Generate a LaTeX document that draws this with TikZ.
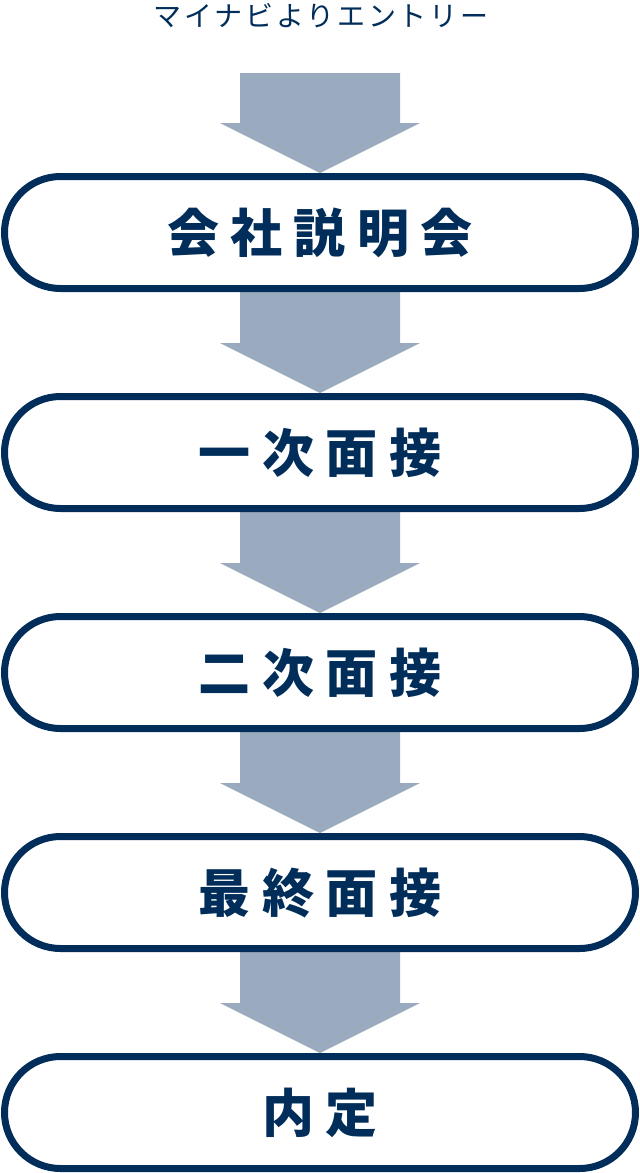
\documentclass[tikz,border=0pt]{standalone}
\usepackage{fontspec}
\newfontfamily\jpfont{Noto Sans CJK JP}
\usetikzlibrary{calc}
\pgfdeclarelayer{background}
\pgfsetlayers{background,main}
\definecolor{navy}{HTML}{002D5A}
\definecolor{flowgray}{HTML}{9AABBF}
\begin{document}
\begin{tikzpicture}[
  x=1pt, y=-1pt,
  stage/.style={rectangle, draw=navy, line width=7pt, fill=white, rounded corners=56pt,
    minimum width=631pt, minimum height=112pt, inner sep=0pt, text=navy,
    font={\jpfont\bfseries\addfontfeature{LetterSpace=22}\fontsize{52}{60}\selectfont}},
  entry/.style={text=navy, inner sep=0pt,
    font={\jpfont\addfontfeature{LetterSpace=10}\fontsize{28}{32}\selectfont}},
  flow/.style={fill=flowgray}
]
  \useasboundingbox (0,0) rectangle (640,1173);
  \node[entry] (E) at (321,16) {マイナビよりエントリー};
  \coordinate (T) at (320,73);
  \node[stage] (S1) at (320,232.5) {会社説明会};
  \node[stage] (S2) at (320,452.5) {一次面接};
  \node[stage] (S3) at (320,672.5) {二次面接};
  \node[stage] (S4) at (320,892.5) {最終面接};
  \node[stage] (S5) at (320,1112.5) {内定};
  % block arrows between the stages
  \begin{pgfonlayer}{background}
  \foreach \a/\b in {T/S1, S1/S2, S2/S3, S3/S4, S4/S5} {
    \fill[flow] ($(\a)+(-80,0)$ |- \a.south) -- ($(\a)+(80,0)$ |- \a.south)
      -- ($(\b.north)+(80,-50)$) -- ($(\b.north)+(100,-50)$) -- (\b.north)
      -- ($(\b.north)+(-100,-50)$) -- ($(\b.north)+(-80,-50)$) -- cycle;
  }
  \end{pgfonlayer}
\end{tikzpicture}
\end{document}
